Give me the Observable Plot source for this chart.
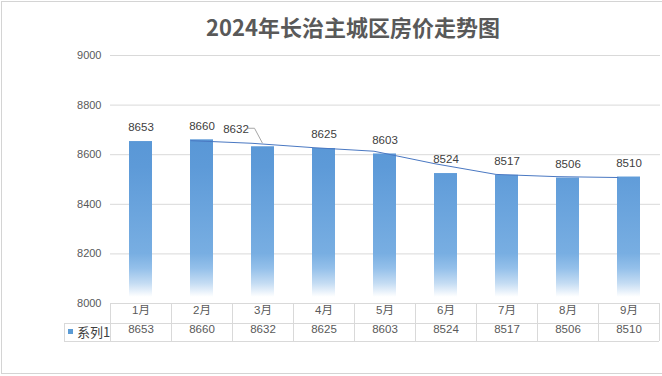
<!DOCTYPE html>
<html><head><meta charset="utf-8">
<script src="https://cdn.jsdelivr.net/npm/d3@7"></script>
<script src="https://cdn.jsdelivr.net/npm/@observablehq/plot@0.6"></script>
<style>
html,body{margin:0;padding:0;background:#fff;}
body{width:662px;height:376px;overflow:hidden;position:relative;font-family:"Liberation Sans","Noto Sans CJK SC",sans-serif;}
#frame{position:absolute;left:1px;top:1px;width:670px;height:371px;border:1px solid #d4d4d4;pointer-events:none;}
#title{height:46px;padding-left:44px;box-sizing:border-box;text-align:center;font:bold 22px "Noto Sans CJK SC",sans-serif;color:#595959;line-height:52px;white-space:nowrap;}
#chart svg{display:block;}
</style></head><body>
<div id="title"></div>
<div id="chart"></div>
<div id="frame"></div>
<script>
const chartTitle = "2024年长治主城区房价走势图";
const months = ["1月","2月","3月","4月","5月","6月","7月","8月","9月"];
const prices = [8653, 8660, 8632, 8625, 8603, 8524, 8517, 8506, 8510];
const yTicks = [8000, 8200, 8400, 8600, 8800, 9000];
const seriesName = "系列1";

document.getElementById("title").textContent = chartTitle;

const data = months.map((m, i) => ({month: m, price: prices[i]}));
// Excel-style 2-period moving-average trendline
const maData = months.slice(1).map((m, i) => ({month: m, ma: (prices[i] + prices[i + 1]) / 2}));
const shifted = "3月";

const numFont = '"Liberation Sans","Noto Sans CJK SC",sans-serif';
const plot = Plot.plot({
  width: 662, height: 330,
  marginLeft: 110, marginRight: 2, marginTop: 9, marginBottom: 73,
  style: {fontFamily: numFont, fontSize: "11px", color: "#595959", background: "transparent"},
  x: {domain: months, paddingInner: 0.62, paddingOuter: 0.31, axis: null},
  y: {domain: [yTicks[0], yTicks[yTicks.length - 1]], axis: null},
  marks: [
    Plot.gridY(yTicks.slice(1), {stroke: "#d9d9d9", strokeOpacity: 1}),
    Plot.axisY(yTicks, {tickSize: 0, tickPadding: 9, fill: "#595959", fontSize: 11, label: null, tickFormat: d => String(d)}),
    Plot.barY(data, {x: "month", y1: yTicks[0], y2: "price", fill: "url(#barGrad)"}),
    Plot.line(maData, {x: "month", y: "ma", stroke: "#4a78c2", strokeWidth: 1, dx: -11}),
    Plot.text(data.filter(d => d.month !== shifted), {x: "month", y: "price", text: d => String(d.price), dy: -14, fill: "#404040", fontSize: 11.5}),
    Plot.text(data.filter(d => d.month === shifted), {x: "month", y: "price", text: d => String(d.price), dx: -27, dy: -17, fill: "#404040", fontSize: 11.5}),
    Plot.text(data, {x: "month", text: "month", frameAnchor: "bottom", dy: 10, fill: "#595959", fontSize: 11.5}),
    Plot.text(data, {x: "month", text: d => String(d.price), frameAnchor: "bottom", dy: 29, fill: "#595959", fontSize: 11.5})
  ]
});
document.getElementById("chart").appendChild(plot);

const svg = d3.select(plot);
const xs = plot.scale("x"), ys = plot.scale("y");
const bw = xs.bandwidth, step = xs.step;
const yTop = ys.apply(yTicks[yTicks.length - 1]), yb = ys.apply(yTicks[0]);

const defs = svg.insert("defs", ":first-child");
const grad = defs.append("linearGradient").attr("id", "barGrad")
  .attr("gradientUnits", "userSpaceOnUse")
  .attr("x1", 0).attr("x2", 0).attr("y1", yTop).attr("y2", yb);
[[0, "#4e8fd1"], [0.45, "#5d9ad8"], [0.8, "#78aee2"], [0.86, "#94c0ea"], [0.92, "#c4dcf3"], [0.975, "#ffffff"]]
  .forEach(([o, c]) => grad.append("stop").attr("offset", o).attr("stop-color", c));

// data table below the plot
const edges = months.map(m => xs.apply(m) + bw / 2 - step / 2);
edges.push(edges[edges.length - 1] + step);
const x0 = edges[0], x1 = edges[edges.length - 1];
const legendLeft = x0 - 46;
const r1 = yb + 20, r2 = yb + 38;
const tg = svg.append("g").attr("stroke", "#d9d9d9").attr("stroke-width", 1).attr("shape-rendering", "crispEdges");
tg.append("line").attr("x1", x0).attr("x2", x1).attr("y1", yb).attr("y2", yb);
tg.append("line").attr("x1", legendLeft).attr("x2", x1).attr("y1", r1).attr("y2", r1);
tg.append("line").attr("x1", legendLeft).attr("x2", x1).attr("y1", r2).attr("y2", r2);
edges.forEach(e => tg.append("line").attr("x1", e).attr("x2", e).attr("y1", yb).attr("y2", r2));
tg.append("line").attr("x1", legendLeft).attr("x2", legendLeft).attr("y1", r1).attr("y2", r2);

svg.append("rect").attr("x", legendLeft + 4).attr("y", (r1 + r2) / 2 - 3).attr("width", 5).attr("height", 5).attr("fill", "#5b9bd5");
svg.append("text").attr("x", legendLeft + 13).attr("y", (r1 + r2) / 2).attr("dy", "0.35em")
  .attr("text-anchor", "start")
  .attr("font-size", 13).attr("fill", "#404040").attr("font-family", '"Noto Sans CJK SC",sans-serif').text(seriesName);

// leader line for the shifted label
const cx = xs.apply(shifted) + bw / 2, ty = ys.apply(prices[months.indexOf(shifted)]);
svg.append("path").attr("fill", "none").attr("stroke", "#a6a6a6").attr("stroke-width", 1)
  .attr("d", `M${cx - 15},${ty - 18}H${cx - 8}L${cx},${ty - 3}`);
</script>
</body></html>
